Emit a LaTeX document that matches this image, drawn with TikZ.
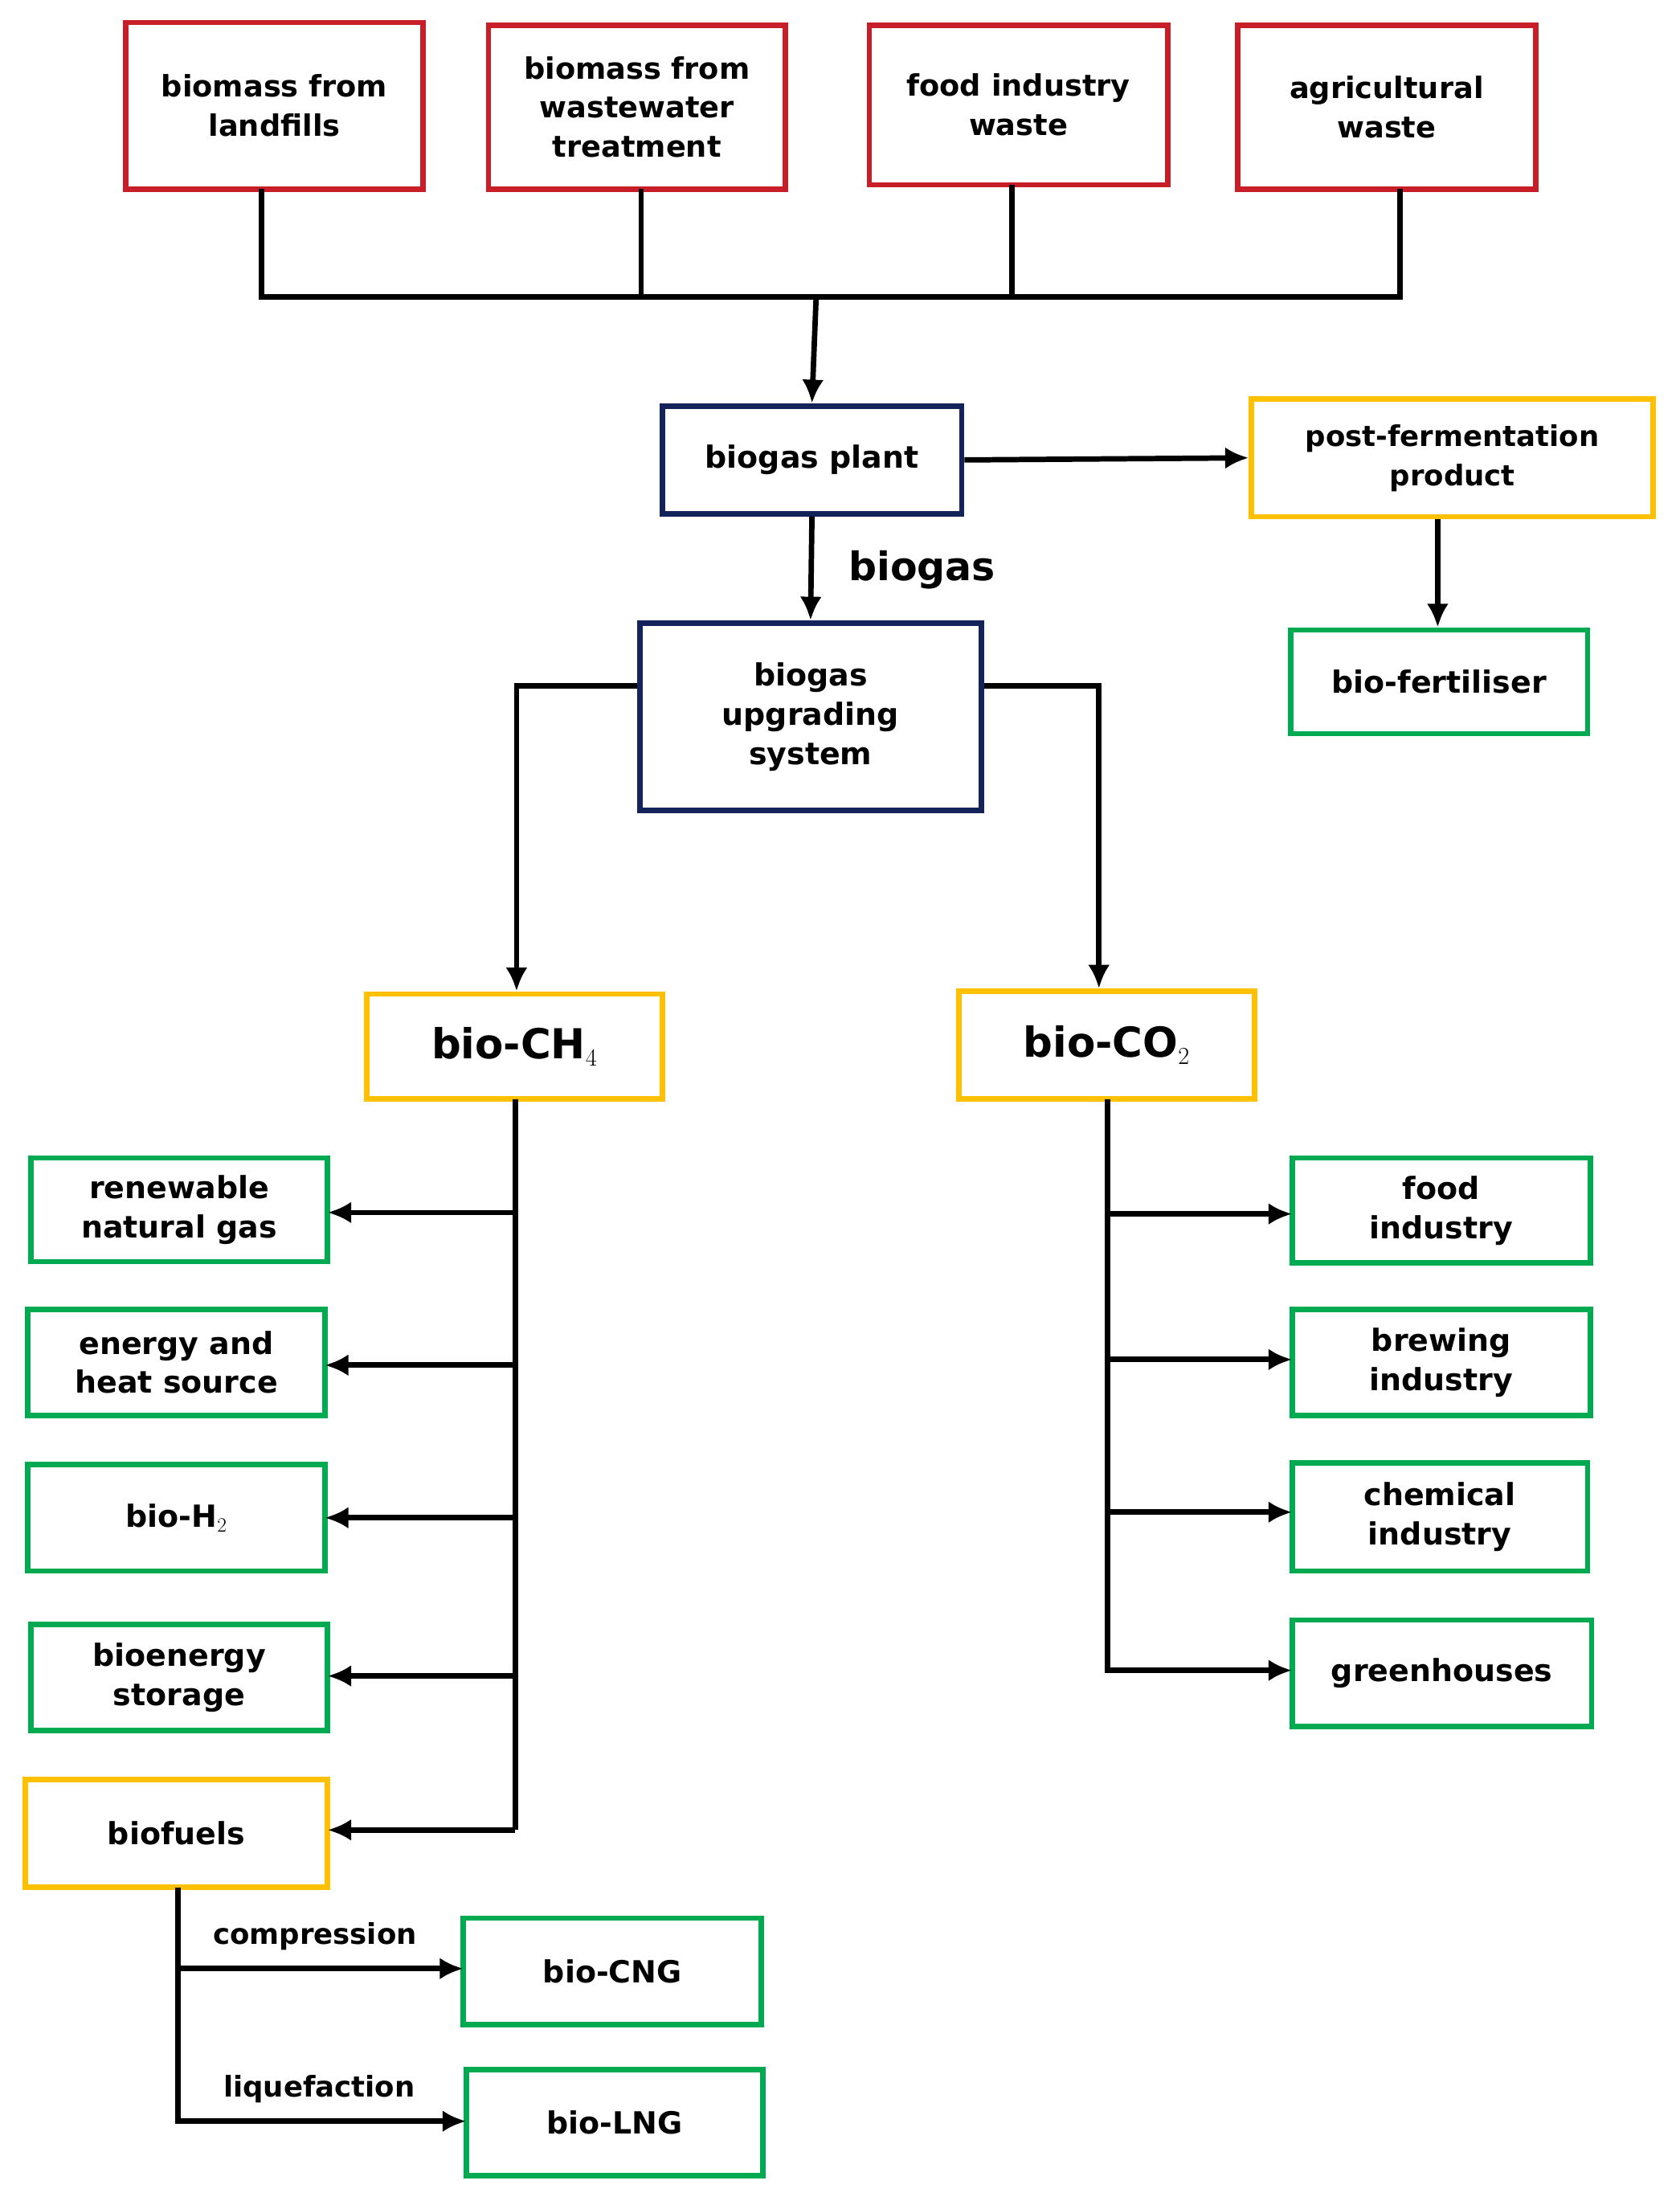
\documentclass[tikz,border=0pt]{standalone}
\usepackage{fontspec}
\setmainfont{DejaVu Sans}
\usetikzlibrary{arrows.meta}
\definecolor{cred}{RGB}{200,30,40}
\definecolor{cnavy}{RGB}{20,35,90}
\definecolor{corange}{RGB}{255,192,0}
\definecolor{cgreen}{RGB}{0,170,80}
\begin{document}
\begin{tikzpicture}[x=0.05cm,y=-0.05cm,
  box/.style={draw, line width=5.5pt, align=center, inner sep=0pt, font=\bfseries\fontsize{33}{48}\selectfont},
  rb/.style={box, cred}, nb/.style={box, cnavy}, ob/.style={box, corange}, gb/.style={box, cgreen},
  ln/.style={line width=5.5pt, black},
  ar/.style={ln, -{Latex[length=24pt,width=22pt]}},
  lab/.style={font=\bfseries\fontsize{31}{40}\selectfont, inner sep=0pt}]
\useasboundingbox (0,0) rectangle (1200,1572);
\newcommand{\bx}[6]{\node[#1, minimum width={(#4-#2)*0.05cm}, minimum height={(#5-#3)*0.05cm}] (#6) at ({(#2+#4)/2},{(#3+#5)/2}) {};}
% red
\bx{rb}{90}{16}{302}{135}{A} \node[lab, black, align=center, font=\bfseries\fontsize{30}{40}\selectfont] at (A) {biomass from\\landfills};
\bx{rb}{349}{18}{561}{135}{B} \node[lab, black, align=center, font=\bfseries\fontsize{30}{40}\selectfont] at (B) {biomass from\\wastewater\\treatment};
\bx{rb}{621}{18}{834}{132}{C} \node[lab, black, align=center, font=\bfseries\fontsize{30}{40}\selectfont] at (C) {food industry\\waste};
\bx{rb}{884}{18}{1097}{135}{D} \node[lab, black, align=center, font=\bfseries\fontsize{30}{40}\selectfont] at (D) {agricultural\\waste};
\coordinate (jA) at (187,212); \coordinate (jD) at (1000,212); \coordinate (jm) at (583,212);
\draw[ln] (187,135) -- (jA) -- (jD) -- (1000,135);
\draw[ln] (458,135) -- (458,212);
\draw[ln] (723,132) -- (723,212);
% biogas plant
\bx{nb}{473}{290}{687}{367}{BP} \node[lab] at (BP) {biogas plant};
\draw[ar] (jm) -- (BP.north);
\bx{ob}{894}{285}{1181}{369}{PF} \node[lab, align=center, font=\bfseries\fontsize{29}{40}\selectfont] at (PF) {post-fermentation\\product};
\draw[ar] (BP.east) -- (PF.west);
\bx{gb}{922}{450}{1134}{524}{BF} \node[lab] at (BF) {bio-fertiliser};
\draw[ar] (PF.south -| 1027,0) -- (BF.north -| 1027,0);
\bx{nb}{457}{445}{701}{579}{UP} \node[lab, align=center] at (UP) {biogas\\upgrading\\system};
\draw[ar] (BP.south) -- (UP.north);
\node[lab, font=\bfseries\fontsize{40}{48}\selectfont, anchor=west] at (606,407) {biogas};
\bx{ob}{262}{710}{473}{785}{CH} \node[lab, font=\bfseries\fontsize{42}{48}\selectfont] at (CH) {bio-CH$_4$};
\bx{ob}{685}{708}{896}{785}{CO} \node[lab, font=\bfseries\fontsize{42}{48}\selectfont] at (CO) {bio-CO$_2$};
\draw[ar] (UP.west |- 0,490) -| (369,708);
\draw[ar] (UP.east |- 0,490) -| (785,706);
% left
\bx{gb}{22}{827}{234}{901}{L1} \node[lab, align=center] at (L1) {renewable\\natural gas};
\bx{gb}{20}{935}{232}{1011}{L2} \node[lab, align=center] at (L2) {energy and\\heat source};
\bx{gb}{20}{1046}{232}{1122}{L3} \node[lab] at (L3) {bio-H$_2$};
\bx{gb}{22}{1160}{234}{1236}{L4} \node[lab, align=center] at (L4) {bioenergy\\storage};
\bx{ob}{18}{1271}{234}{1348}{L5} \node[lab] at (L5) {biofuels};
\coordinate (lt) at (368,1307);
\draw[ln] (368,785) -- (lt);
\draw[ar] (368,866) -- (234,866);
\draw[ar] (368,975) -- (232,975);
\draw[ar] (368,1084) -- (232,1084);
\draw[ar] (368,1197) -- (234,1197);
\draw[ar] (lt) -- (234,1307);
% right
\bx{gb}{923}{827}{1136}{902}{R1} \node[lab, align=center] at (R1) {food\\industry};
\bx{gb}{923}{935}{1136}{1011}{R2} \node[lab, align=center] at (R2) {brewing\\industry};
\bx{gb}{923}{1045}{1134}{1122}{R3} \node[lab, align=center] at (R3) {chemical\\industry};
\bx{gb}{923}{1157}{1137}{1233}{R4} \node[lab] at (R4) {greenhouses};
\draw[ln] (791,785) -- (791,1193);
\draw[ar] (791,867) -- (923,867);
\draw[ar] (791,971) -- (923,971);
\draw[ar] (791,1080) -- (923,1080);
\draw[ar] (789,1193) -- (923,1193);
% biofuels
\bx{gb}{331}{1370}{544}{1446}{CNG} \node[lab] at (CNG) {bio-CNG};
\bx{gb}{333}{1478}{545}{1554}{LNG} \node[lab] at (LNG) {bio-LNG};
\draw[ln] (127,1348) -- (127,1515);
\draw[ar] (127,1406) -- (331,1406);
\draw[ar] (125,1515) -- (333,1515);
\node[lab, font=\bfseries\fontsize{29}{36}\selectfont] at (225,1383) {compression};
\node[lab, font=\bfseries\fontsize{29}{36}\selectfont] at (228,1492) {liquefaction};
\end{tikzpicture}
\end{document}
